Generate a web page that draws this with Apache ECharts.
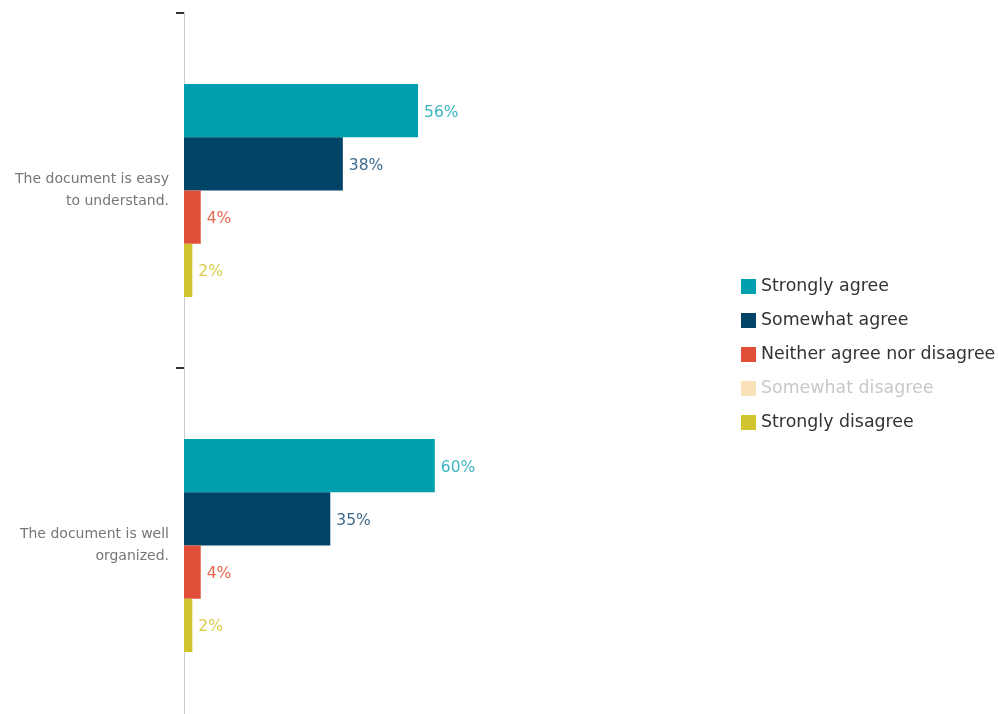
<!DOCTYPE html>
<html>
<head>
<meta charset="utf-8">
<script src="https://cdn.jsdelivr.net/npm/echarts@6/dist/echarts.min.js"></script>
<style>
  html, body { margin: 0; padding: 0; background: #fff; }
  #chart { width: 998px; height: 714px; }
</style>
</head>
<body>
<div id="chart"></div>
<script>
// Survey statements (top to bottom) and response shares in percent
const statements = ['The document is easy to understand.', 'The document is well organized.'];
const seriesNames = ['Strongly agree', 'Somewhat agree', 'Neither agree nor disagree', 'Somewhat disagree', 'Strongly disagree'];
const stronglyAgree = [56, 60];
const somewhatAgree = [38, 35];
const neitherAgree = [4, 4];
const somewhatDisagree = ['-', '-'];
const stronglyDisagree = [2, 2];

const barColors = ['#00A0AF', '#004468', '#E04E39', '#F9E1B9', '#D2C42E'];
const labelColors = ['#3BB4C3', '#3D6B8C', '#E8684F', '#E0CFA0', '#D8CC4A'];
const values = [stronglyAgree, somewhatAgree, neitherAgree, somewhatDisagree, stronglyDisagree];

const FONT = '"DejaVu Sans", Verdana, sans-serif';
const AXIS_FONT_SIZE = 14;
const AXIS_LABEL_WIDTH = 162;

// Greedy word wrap so each line is right-aligned without trailing spaces
const measureCtx = document.createElement('canvas').getContext('2d');
function wrapLabel(text) {
  measureCtx.font = AXIS_FONT_SIZE + 'px ' + FONT;
  const words = text.split(' ');
  const lines = [];
  let line = '';
  words.forEach(w => {
    const trial = line ? line + ' ' + w : w;
    if (line && measureCtx.measureText(trial).width > AXIS_LABEL_WIDTH) {
      lines.push(line);
      line = w;
    } else {
      line = trial;
    }
  });
  if (line) lines.push(line);
  return lines.join('\n');
}

const series = seriesNames.map((name, i) => ({
  name,
  type: 'bar',
  // the response with no answers sits on its own hidden axis so it takes no bar slot
  yAxisIndex: i === 3 ? 1 : 0,
  data: values[i],
  barGap: '0%',
  barCategoryGap: '40%',
  itemStyle: { color: barColors[i] },
  label: {
    show: true,
    position: 'right',
    distance: 6,
    offset: [0, 2],
    formatter: '{c}%',
    color: labelColors[i],
    fontFamily: FONT,
    fontSize: 15.5
  },
  emphasis: { disabled: true }
}));

const chart = echarts.init(document.getElementById('chart'), null, { renderer: 'canvas' });
chart.setOption({
  animation: false,
  backgroundColor: '#ffffff',
  grid: { left: 184, width: 418, top: 13, height: 710, containLabel: false, outerBoundsMode: 'none' },
  legend: {
    orient: 'vertical',
    left: 736,
    top: 273,
    itemWidth: 15,
    itemHeight: 15,
    itemGap: 17,
    itemTextGap: 7,
    icon: 'rect',
    selectedMode: false,
    textStyle: { fontFamily: FONT, fontSize: 17.4, color: '#333333' },
    data: seriesNames.map((name, i) => i === 3
      ? { name, textStyle: { color: '#C8C8C8' } }
      : { name })
  },
  xAxis: { type: 'value', min: 0, max: 100, show: false },
  yAxis: [
    {
      type: 'category',
      inverse: true,
      data: statements,
      axisLine: { show: true, lineStyle: { color: '#CCCCCC', width: 1 } },
      axisTick: { show: true, length: 8, lineStyle: { color: '#333333', width: 2 } },
      splitLine: { show: false },
      axisLabel: {
        margin: 15,
        align: 'right',
        color: '#777777',
        fontFamily: FONT,
        fontSize: AXIS_FONT_SIZE,
        lineHeight: 22,
        formatter: wrapLabel
      }
    },
    {
      type: 'category',
      inverse: true,
      data: statements,
      show: false
    }
  ],
  series
});
</script>
</body>
</html>
